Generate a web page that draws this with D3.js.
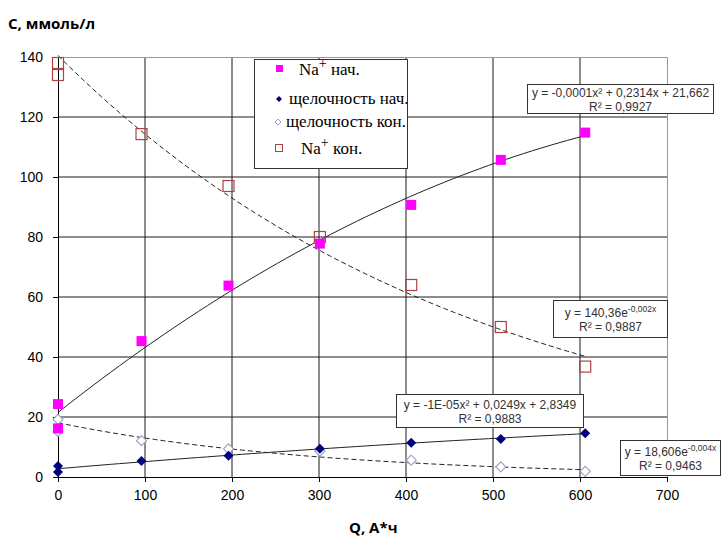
<!DOCTYPE html>
<html>
<head>
<meta charset="utf-8">
<script src="https://cdn.jsdelivr.net/npm/d3@7"></script>
<style>
  body { margin: 0; background: #fff; }
  .tick text { font-family: Arial, "Liberation Sans", sans-serif; font-size: 14px; fill: #000; }
  .eq { font-family: Arial, "Liberation Sans", sans-serif; font-size: 12px; fill: #333; }
  .leg { font-family: "Times New Roman", "Liberation Serif", serif; font-size: 17px; fill: #000; }
  .title { font-family: "Open Sans", "Noto Sans", sans-serif; font-size: 15px; font-weight: bold; fill: #000; }
</style>
</head>
<body>
<div id="chart"></div>
<script>
"use strict";
// values
let xNaStart = [0, 0, 96, 196, 301, 406, 509, 606];
let naStart = [24.3, 16.2, 45.3, 63.8, 77.8, 90.7, 105.7, 114.8];
let xNaEnd = [0, 0, 96, 196, 301, 406, 509, 606];
let naEnd = [138, 134, 114.3, 97, 80, 64, 50, 36.8];
let xAlkStart = [0, 0, 96, 196, 301, 406, 509, 606];
let alkStart = [3.7, 1.7, 5.3, 7.1, 9.4, 11.4, 12.7, 14.6];
let xAlkEnd = [0, 0, 96, 196, 301, 406, 509, 606];
let alkEnd = [19.2, 15.2, 12.1, 9.4, 8.6, 5.6, 3.4, 1.9];

let xTicks = [0, 100, 200, 300, 400, 500, 600, 700];
let yTicks = [0, 20, 40, 60, 80, 100, 120, 140];

let eqNaStart = ["y = -0,0001x² + 0,2314x + 21,662", "R² = 0,9927"];
let eqNaEnd = ["y = 140,36e", "-0,002x", "R² = 0,9887"];
let eqAlkStart = ["y = -1E-05x² + 0,0249x + 2,8349", "R² = 0,9883"];
let eqAlkEnd = ["y = 18,606e", "-0,004x", "R² = 0,9463"];

let width = 721, height = 539;
let margin = { top: 57, right: 54, bottom: 62, left: 58 };

let svg = d3.select("#chart")
    .append("svg")
    .attr("width", width)
    .attr("height", height);

svg.append("rect").attr("width", width).attr("height", height).attr("fill", "#fff");

let x = d3.scaleLinear().domain([0, 700]).range([margin.left, width - margin.right]);
let y = d3.scaleLinear().domain([0, 140]).range([height - margin.bottom, margin.top]);

// grid
let grid = svg.append("g");
grid.selectAll(".gx")
    .data(xTicks.filter(d => d > 0 && d < 700))
    .enter().append("line")
    .attr("x1", d => x(d)).attr("x2", d => x(d))
    .attr("y1", y(0)).attr("y2", y(140))
    .attr("stroke", "#1a1a1a");
grid.selectAll(".gy")
    .data(yTicks.filter(d => d > 0 && d < 140))
    .enter().append("line")
    .attr("x1", x(0)).attr("x2", x(700))
    .attr("y1", d => y(d)).attr("y2", d => y(d))
    .attr("stroke", "#1a1a1a");
// plot frame top / right
grid.append("path")
    .attr("d", "M" + x(0) + "," + (y(140) + 0.5) + "H" + (x(700) + 0.5) + "V" + y(0))
    .attr("fill", "none")
    .attr("stroke", "#999");

// axes
svg.append("g")
    .attr("transform", "translate(0," + y(0) + ")")
    .call(d3.axisBottom(x).tickValues(xTicks).tickSize(5).tickPadding(8).tickFormat(d3.format("d")))
    .call(g => g.select(".domain").attr("stroke", "#000"))
    .call(g => g.selectAll(".tick line").attr("stroke", "#000"));
svg.append("g")
    .attr("transform", "translate(" + x(0) + ",0)")
    .call(d3.axisLeft(y).tickValues(yTicks).tickSize(5).tickPadding(10).tickFormat(d3.format("d")))
    .call(g => g.select(".domain").attr("stroke", "#000"))
    .call(g => g.selectAll(".tick line").attr("stroke", "#000"));

// least squares fits, as the spreadsheet trendlines
let fitQuad = function (xs, ys) {
    let s = [0, 0, 0, 0, 0], t = [0, 0, 0];
    xs.forEach((xi, i) => {
        for (let k = 0; k < 5; k++) s[k] += Math.pow(xi, k);
        for (let k = 0; k < 3; k++) t[k] += ys[i] * Math.pow(xi, k);
    });
    let m = [[s[0], s[1], s[2], t[0]], [s[1], s[2], s[3], t[1]], [s[2], s[3], s[4], t[2]]];
    for (let i = 0; i < 3; i++) {
        for (let j = i + 1; j < 3; j++) {
            let f = m[j][i] / m[i][i];
            for (let k = i; k < 4; k++) m[j][k] -= f * m[i][k];
        }
    }
    let c = [0, 0, 0];
    for (let i = 2; i >= 0; i--) {
        let v = m[i][3];
        for (let k = i + 1; k < 3; k++) v -= m[i][k] * c[k];
        c[i] = v / m[i][i];
    }
    return v => c[0] + c[1] * v + c[2] * v * v;
};
let fitExp = function (xs, ys) {
    let lx = d3.mean(xs), ly = d3.mean(ys.map(Math.log));
    let num = 0, den = 0;
    xs.forEach((xi, i) => {
        num += (xi - lx) * (Math.log(ys[i]) - ly);
        den += (xi - lx) * (xi - lx);
    });
    let b = num / den, a = Math.exp(ly - b * lx);
    return v => a * Math.exp(b * v);
};

let line = d3.line().x(d => x(d[0])).y(d => y(d[1]));
let trend = function (f, xs, dashed) {
    let steps = d3.range(0, 61).map(i => d3.min(xs) + (d3.max(xs) - d3.min(xs)) * i / 60);
    svg.append("path")
        .datum(steps.map(v => [v, f(v)]))
        .attr("d", line)
        .attr("fill", "none")
        .attr("stroke", "#222")
        .attr("stroke-width", 1)
        .attr("stroke-dasharray", dashed ? "5,3" : null);
};
trend(fitQuad(xNaStart, naStart), xNaStart, false);
trend(fitExp(xNaEnd, naEnd), xNaEnd, true);
trend(fitQuad(xAlkStart, alkStart), xAlkStart, false);
trend(fitExp(xAlkEnd, alkEnd), xAlkEnd, true);

// markers
let diamond = "M0,-5L5,0L0,5L-5,0Z";
let smallDiamond = "M0,-3L3,0L0,3L-3,0Z";

svg.append("g").selectAll("rect")
    .data(d3.zip(xNaEnd, naEnd)).enter().append("rect")
    .attr("x", d => x(d[0]) - 5.5).attr("y", d => y(d[1]) - 5.5)
    .attr("width", 11).attr("height", 11)
    .attr("fill", "none").attr("stroke", "#b24040").attr("stroke-width", 1.2);
svg.append("g").selectAll("path")
    .data(d3.zip(xAlkEnd, alkEnd)).enter().append("path")
    .attr("d", diamond)
    .attr("transform", d => "translate(" + x(d[0]) + "," + y(d[1]) + ")")
    .attr("fill", "#fff").attr("stroke", "#9aa6c0").attr("stroke-width", 1.2);
svg.append("g").selectAll("rect")
    .data(d3.zip(xNaStart, naStart)).enter().append("rect")
    .attr("x", d => x(d[0]) - 5).attr("y", d => y(d[1]) - 5)
    .attr("width", 10).attr("height", 10)
    .attr("fill", "#ff00ff");
svg.append("g").selectAll("path")
    .data(d3.zip(xAlkStart, alkStart)).enter().append("path")
    .attr("d", diamond)
    .attr("transform", d => "translate(" + x(d[0]) + "," + y(d[1]) + ")")
    .attr("fill", "#000080");

// equation labels
let eqBox = function (bx, by, bw, bh, lines, exp) {
    let g = svg.append("g").attr("transform", "translate(" + bx + "," + by + ")");
    g.append("rect").attr("x", 0.5).attr("y", 0.5).attr("width", bw).attr("height", bh)
        .attr("fill", "#fff").attr("stroke", "#333");
    let t1 = g.append("text").attr("class", "eq")
        .attr("x", bw / 2 + 0.5).attr("y", bh / 2 - 1.5).attr("text-anchor", "middle");
    t1.append("tspan").text(lines[0]);
    if (exp) {
        t1.append("tspan").attr("dy", -5).attr("font-size", "8.5px").text(lines[1]);
    }
    g.append("text").attr("class", "eq")
        .attr("x", bw / 2 + 0.5).attr("y", bh / 2 + 12).attr("text-anchor", "middle")
        .text(exp ? lines[2] : lines[1]);
};
eqBox(527, 84, 186, 29, eqNaStart, false);
eqBox(553, 300, 114, 37, eqNaEnd, true);
eqBox(396, 394, 187, 33, eqAlkStart, false);
eqBox(620, 440, 100, 35, eqAlkEnd, true);

// legend
let legend = svg.append("g").attr("transform", "translate(254,59)");
legend.append("clipPath").attr("id", "legclip")
    .append("rect").attr("width", 153).attr("height", 109);
legend.append("rect").attr("x", 0.5).attr("y", 0.5).attr("width", 153).attr("height", 109)
    .attr("fill", "#fff").attr("stroke", "#333");
let lg = legend.append("g").attr("clip-path", "url(#legclip)");

lg.append("rect").attr("x", 22).attr("y", 6).attr("width", 7).attr("height", 7).attr("fill", "#ff00ff");
let l1 = lg.append("text").attr("class", "leg").attr("x", 45).attr("y", 16);
l1.append("tspan").text("Na");
l1.append("tspan").attr("dy", -7).attr("font-size", "14px").text("+");
l1.append("tspan").attr("dy", 7).text(" нач.");

lg.append("path").attr("d", smallDiamond)
    .attr("transform", "translate(25,40)").attr("fill", "#000080");
lg.append("text").attr("class", "leg").attr("x", 35).attr("y", 45).text("щелочность нач.");

lg.append("path").attr("d", smallDiamond)
    .attr("transform", "translate(24,63)").attr("fill", "#fff").attr("stroke", "#9aa6c0");
lg.append("text").attr("class", "leg").attr("x", 32).attr("y", 68).text("щелочность кон.");

lg.append("rect").attr("x", 21.5).attr("y", 85.5).attr("width", 7).attr("height", 7)
    .attr("fill", "none").attr("stroke", "#b24040");
let l4 = lg.append("text").attr("class", "leg").attr("x", 47).attr("y", 95);
l4.append("tspan").text("Na");
l4.append("tspan").attr("dy", -7).attr("font-size", "14px").text("+");
l4.append("tspan").attr("dy", 7).text(" кон.");

// axis titles
svg.append("text").attr("class", "title").attr("x", 8).attr("y", 29).text("C, ммоль/л");
svg.append("text").attr("class", "title").attr("x", 349).attr("y", 533).text("Q, A*ч");
</script>
</body>
</html>
